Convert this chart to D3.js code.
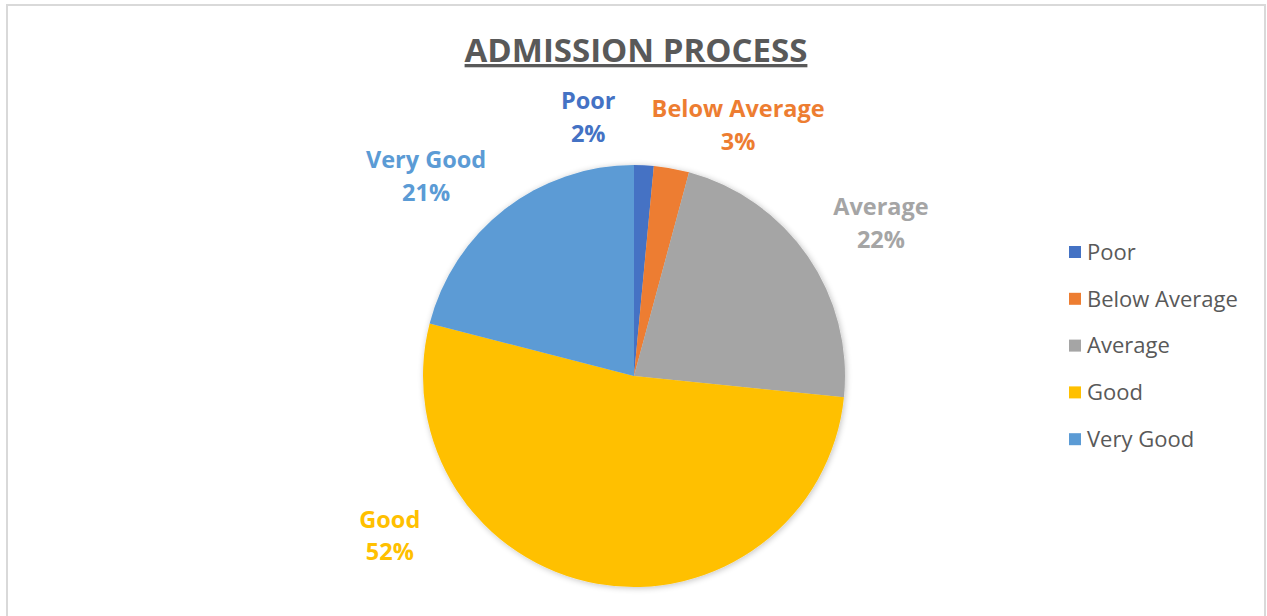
<!DOCTYPE html>
<html>
<head>
<meta charset="utf-8">
<script src="https://cdn.jsdelivr.net/npm/d3@7"></script>
<style>
  body { margin: 0; background: #fff; }
  text { font-family: "Open Sans", Lato, sans-serif; }
</style>
</head>
<body>
<div id="chart"></div>
<script>
var categories = ["Poor", "Below Average", "Average", "Good", "Very Good"];
var values = [1.5, 2.7, 22.4, 52.4, 21.0];
var pctLabels = ["2%", "3%", "22%", "52%", "21%"];
var colors = ["#4472C4", "#ED7D31", "#A5A5A5", "#FFC000", "#5B9BD5"];

// label placement (Excel best-fit look): angle in degrees, radius as share of pie radius
var labelAngle = [350, 22.5, 58, 237, 314];
var labelRadius = [1.25, 1.29, 1.38, 1.38, 1.37];

var width = 1267, height = 616;
var cx = 634, cy = 376, r = 211;

var svg = d3.select("#chart").append("svg")
  .attr("width", width)
  .attr("height", height);

// chart border
svg.append("path")
  .attr("d", "M7,620 L7,5 L1265,5 L1265,620")
  .attr("fill", "none")
  .attr("stroke", "#d9d9d9")
  .attr("stroke-width", 2);

var defs = svg.append("defs");
var shadow = defs.append("filter").attr("id", "shadow")
  .attr("x", "-10%").attr("y", "-10%").attr("width", "120%").attr("height", "120%");
shadow.append("feGaussianBlur").attr("in", "SourceAlpha").attr("stdDeviation", 3);
shadow.append("feOffset").attr("dx", 1).attr("dy", 1).attr("result", "blur");
shadow.append("feComponentTransfer").append("feFuncA").attr("type", "linear").attr("slope", 0.25);
var merge = shadow.append("feMerge");
merge.append("feMergeNode");
merge.append("feMergeNode").attr("in", "SourceGraphic");

// title
svg.append("text")
  .attr("x", 636)
  .attr("y", 62)
  .attr("text-anchor", "middle")
  .attr("font-size", 33)
  .attr("font-weight", "bold")
  .attr("fill", "#595959")
  .attr("text-decoration", "underline")
  .text("ADMISSION PROCESS");

var pie = d3.pie().sort(null).value(function (d) { return d; });
var arcs = pie(values);
var arc = d3.arc().innerRadius(0).outerRadius(r);

var g = svg.append("g")
  .attr("transform", "translate(" + cx + "," + cy + ")");

g.append("g").attr("filter", "url(#shadow)")
  .selectAll("path")
  .data(arcs)
  .enter().append("path")
  .attr("d", arc)
  .attr("fill", function (d, i) { return colors[i]; });

// data labels
var labels = g.selectAll("text.lbl")
  .data(arcs)
  .enter().append("text")
  .attr("class", "lbl")
  .attr("text-anchor", "middle")
  .attr("font-size", 23.5)
  .attr("font-weight", "bold")
  .attr("fill", function (d, i) { return colors[i]; })
  .attr("transform", function (d, i) {
    var a = labelAngle[i] * Math.PI / 180;
    var rr = labelRadius[i] * r;
    return "translate(" + (rr * Math.sin(a)) + "," + (-rr * Math.cos(a)) + ")";
  });
labels.append("tspan").attr("x", 0).attr("dy", "-0.3em")
  .text(function (d, i) { return categories[i]; });
labels.append("tspan").attr("x", 0).attr("dy", "1.4em")
  .text(function (d, i) { return pctLabels[i]; });

// legend
var legend = svg.selectAll("g.legend")
  .data(categories)
  .enter().append("g")
  .attr("class", "legend")
  .attr("transform", function (d, i) { return "translate(1069," + (252 + i * 46.8) + ")"; });
legend.append("rect")
  .attr("x", 0).attr("y", -6)
  .attr("width", 12).attr("height", 12)
  .attr("fill", function (d, i) { return colors[i]; });
legend.append("text")
  .attr("x", 18).attr("y", 0)
  .attr("dy", "0.35em")
  .attr("font-size", 22)
  .attr("fill", "#595959")
  .text(function (d) { return d; });
</script>
</body>
</html>
